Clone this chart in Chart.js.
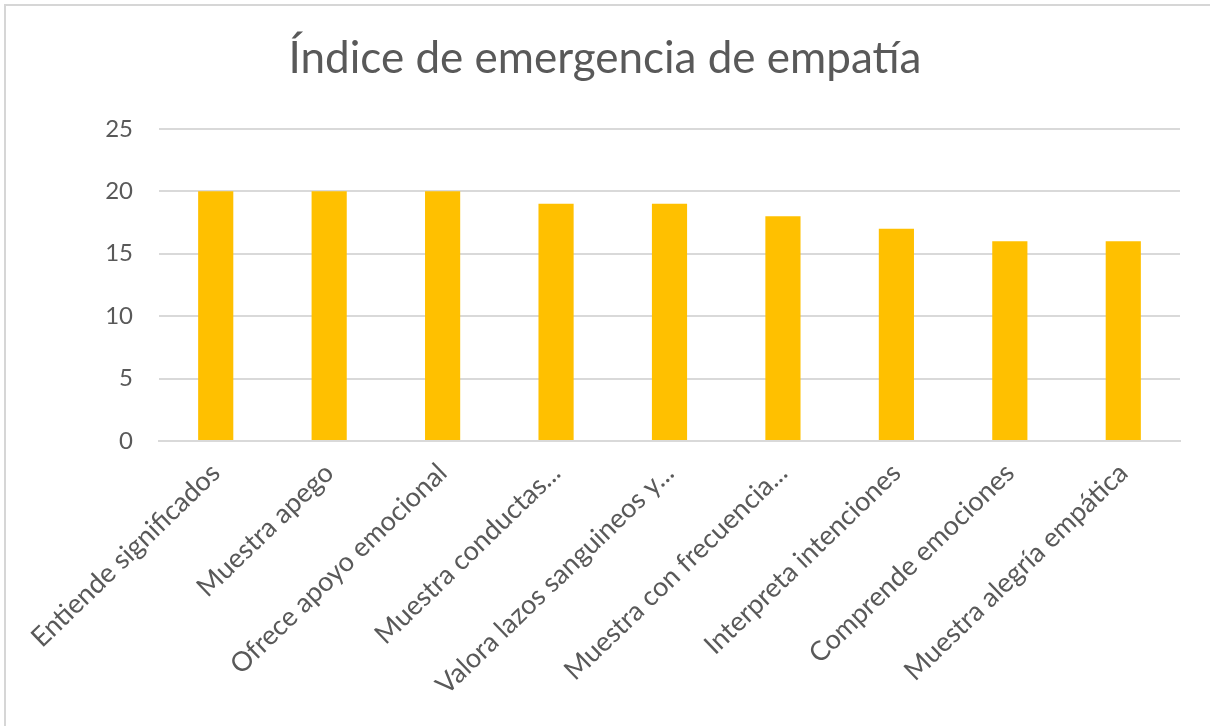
<!DOCTYPE html>
<html>
<head>
<meta charset="utf-8">
<script src="https://cdn.jsdelivr.net/npm/chart.js@4.4.1/dist/chart.umd.min.js"></script>
<style>
  html, body { margin: 0; padding: 0; background: #ffffff; }
  #wrap { position: relative; width: 1210px; height: 726px; overflow: hidden; }
  #frame { position: absolute; left: 4px; top: 4px; right: -10px; bottom: -10px;
           border-top: 2px solid #d6d6d6; border-left: 2px solid #d6d6d6; pointer-events: none; }
  canvas { position: absolute; left: 0; top: 0; }
</style>
</head>
<body>
<div id="wrap">
  <canvas id="c" width="1210" height="726"></canvas>
  <div id="frame"></div>
</div>
<script>
const titleText = "Índice de emergencia de empatía";
const categories = [
  "Entiende significados",
  "Muestra apego",
  "Ofrece apoyo emocional",
  "Muestra conductas...",
  "Valora lazos sanguineos y...",
  "Muestra con frecuencia...",
  "Interpreta intenciones",
  "Comprende emociones",
  "Muestra alegría empática"
];
const values = [20, 20, 20, 19, 19, 18, 17, 16, 16];
const yMin = 0, yMax = 25, yStep = 5;

const textColor = "#595959";
const gridColor = "#d9d9d9";
const barColor = "#FFC000";
const tickFamily = "Lato";

function draw() {
  new Chart(document.getElementById("c"), {
    type: "bar",
    data: {
      labels: categories,
      datasets: [{
        data: values,
        backgroundColor: barColor,
        borderWidth: 0,
        barPercentage: 0.31,
        categoryPercentage: 1.0
      }]
    },
    options: {
      responsive: false,
      animation: false,
      layout: { padding: { left: 30, right: 30, top: 32, bottom: 0 } },
      plugins: {
        legend: { display: false },
        tooltip: { enabled: false },
        title: {
          display: true,
          text: titleText,
          color: textColor,
          font: { family: "Lato", size: 44, weight: "normal" },
          padding: { top: 0, bottom: 44 }
        }
      },
      scales: {
        x: {
          afterFit: (s) => { s.height = 285; },
          grid: { display: false, drawTicks: false },
          border: { display: true, color: gridColor, width: 2 },
          ticks: {
            color: textColor,
            font: { family: tickFamily, size: 27 },
            minRotation: 44, maxRotation: 44,
            autoSkip: false,
            padding: 16
          }
        },
        y: {
          min: yMin, max: yMax,
          afterFit: (s) => { s.width = 129; },
          grid: { color: gridColor, lineWidth: 2, drawTicks: false },
          border: { display: false },
          ticks: {
            stepSize: yStep,
            color: textColor,
            font: { family: tickFamily, size: 24 },
            padding: 26
          }
        }
      }
    }
  });
}
Promise.all([
  document.fonts.load('27px "Lato"'),
  document.fonts.load('44px "Lato"')
]).then(draw, draw);
</script>
</body>
</html>
